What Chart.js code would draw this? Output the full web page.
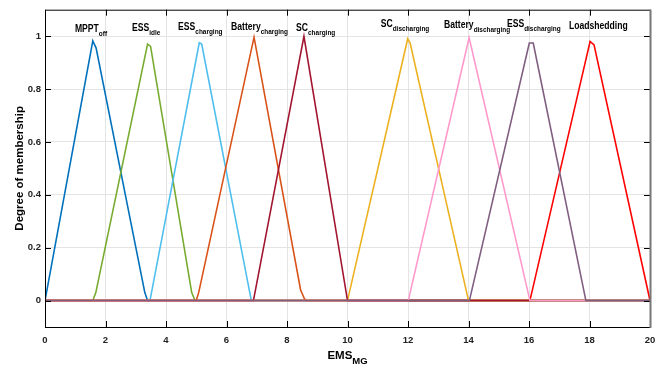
<!DOCTYPE html>
<html>
<head>
<meta charset="utf-8">
<script src="https://cdn.jsdelivr.net/npm/chart.js@4.4.0/dist/chart.umd.min.js"></script>
<style>
  html, body { margin: 0; padding: 0; background: #fff; }
  #wrap { width: 672px; height: 365px; }
</style>
</head>
<body>
<div id="wrap"><canvas id="mfChart" width="672" height="365"></canvas></div>
<script>
// axis ticks
var xTicks = [0, 2, 4, 6, 8, 10, 12, 14, 16, 18, 20];
var yTicks = [0, 0.2, 0.4, 0.6, 0.8, 1];

// membership function vertices (EMS value, degree)
var mpptOffX = [0, 1.58, 1.69, 3.3, 3.39, 20];
var mpptOffY = [0, 0.982, 0.955, 0.03, 0, 0];
var essIdleX = [0, 1.58, 1.68, 3.39, 3.49, 4.85, 4.96, 20];
var essIdleY = [0, 0, 0.03, 0.97, 0.961, 0.03, 0, 0];
var essChgX = [0, 3.47, 5.1, 5.18, 6.82, 20];
var essChgY = [0, 0, 0.975, 0.97, 0, 0];
var batChgX = [0, 5.0, 5.08, 6.91, 8.45, 8.58, 8.65, 20];
var batChgY = [0, 0, 0.03, 0.996, 0.04, 0.006, 0, 0];
var scChgX = [0, 6.89, 8.56, 10.0, 20];
var scChgY = [0, 0, 0.999, 0, 0];
var scDisX = [0, 10.0, 11.99, 12.07, 14.0, 20];
var scDisY = [0, 0, 0.99, 0.974, 0, 0];
var batDisX = [0, 12.01, 14.02, 16.03, 20];
var batDisY = [0, 0, 0.995, 0, 0];
var essDisX = [0, 14.03, 16.01, 16.14, 17.88, 20];
var essDisY = [0, 0, 0.974, 0.974, 0, 0];
var loadShedX = [0, 16.03, 18.02, 18.15, 20];
var loadShedY = [0, 0, 0.98, 0.967, 0];

// label text: main part and subscript
var mfNames = ['MPPT', 'ESS', 'ESS', 'Battery', 'SC', 'SC', 'Battery', 'ESS', 'Loadshedding'];
var mfSubs = ['off', 'idle', 'charging', 'charging', 'charging', 'discharging', 'discharging', 'discharging', ''];
// where each label sits, in axis units
var labelX = [0.99, 2.88, 4.40, 6.15, 8.30, 11.10, 13.19, 15.27, 17.32];
var labelY = [1.017, 1.021, 1.023, 1.024, 1.021, 1.033, 1.029, 1.033, 1.028];

var series = [
  { x: mpptOffX, y: mpptOffY, color: '#0072BD', order: 9 },
  { x: essIdleX, y: essIdleY, color: '#77AC30', order: 8 },
  { x: essChgX, y: essChgY, color: '#4DBEEE', order: 7 },
  { x: batChgX, y: batChgY, color: '#D95319', order: 6 },
  { x: scChgX, y: scChgY, color: '#A2142F', order: 3 },
  { x: scDisX, y: scDisY, color: '#EDB120', order: 4 },
  { x: batDisX, y: batDisY, color: '#FF99CC', order: 2 },
  { x: essDisX, y: essDisY, color: '#7F5E80', order: 1 },
  { x: loadShedX, y: loadShedY, color: '#FF0000', order: 5 }
];

var chartData = {
  datasets: series.map(function(s, i) {
    return {
      label: mfNames[i] + mfSubs[i],
      data: s.x.map(function(v, k) { return { x: v, y: s.y[k] }; }),
      borderColor: s.color,
      borderWidth: 1.6,
      pointRadius: 0,
      fill: false,
      tension: 0,
      order: s.order
    };
  })
};

var FONT = '"Liberation Sans", Arial, Helvetica, sans-serif';

// box around the plot with inward ticks on all four sides
var frameTicks = {
  id: 'frameTicks',
  afterDatasetsDraw: function(chart) {
    var ctx = chart.ctx, a = chart.chartArea;
    var xs = chart.scales.x, ys = chart.scales.y;
    ctx.save();
    ctx.strokeStyle = '#000';
    ctx.lineWidth = 1;
    ctx.beginPath();
    xTicks.forEach(function(v) {
      var px = Math.round(xs.getPixelForValue(v)) + 0.5;
      ctx.moveTo(px, a.bottom); ctx.lineTo(px, a.bottom - 6);
      ctx.moveTo(px, a.top); ctx.lineTo(px, a.top + 6);
    });
    yTicks.forEach(function(v) {
      var py = Math.round(ys.getPixelForValue(v)) + 0.5;
      ctx.moveTo(a.left, py); ctx.lineTo(a.left + 6, py);
      ctx.moveTo(a.right, py); ctx.lineTo(a.right - 6, py);
    });
    ctx.moveTo(a.left + 0.5, a.bottom + 0.5);
    ctx.lineTo(a.left + 0.5, a.top + 0.5);
    ctx.lineTo(a.right, a.top + 0.5);
    ctx.moveTo(a.left, a.bottom + 0.5);
    ctx.lineTo(a.right, a.bottom + 0.5);
    ctx.stroke();
    ctx.strokeStyle = '#777';
    ctx.lineWidth = 2;
    ctx.beginPath();
    ctx.moveTo(a.right + 0.5, a.top);
    ctx.lineTo(a.right + 0.5, a.bottom + 1);
    ctx.stroke();
    ctx.restore();
  }
};

// draws "main" with a smaller subscript after it
function subText(ctx, x, y, main, sub, size, subSize, drop) {
  ctx.font = 'bold ' + size + 'px ' + FONT;
  ctx.fillText(main, x, y);
  var w = ctx.measureText(main).width;
  if (sub) {
    ctx.font = 'bold ' + subSize + 'px ' + FONT;
    ctx.fillText(sub, x + w, y + drop);
    w += ctx.measureText(sub).width;
  }
  return w;
}

var mfLabels = {
  id: 'mfLabels',
  afterDatasetsDraw: function(chart) {
    var ctx = chart.ctx, xs = chart.scales.x, ys = chart.scales.y;
    ctx.save();
    ctx.fillStyle = '#000';
    ctx.textBaseline = 'alphabetic';
    ctx.textAlign = 'left';
    for (var i = 0; i < mfNames.length; i++) {
      var px = xs.getPixelForValue(labelX[i]);
      var py = ys.getPixelForValue(labelY[i]);
      ctx.save();
      ctx.translate(px, py);
      ctx.scale(0.86, 1);
      subText(ctx, 0, 0, mfNames[i], mfSubs[i], 10, 7.5, 4);
      ctx.restore();
    }
    ctx.restore();
  }
};

var axisTitles = {
  id: 'axisTitles',
  afterDraw: function(chart) {
    var ctx = chart.ctx, a = chart.chartArea;
    ctx.save();
    ctx.fillStyle = '#000';
    ctx.textBaseline = 'alphabetic';
    ctx.textAlign = 'left';
    // x title EMS_MG centred under the plot
    ctx.font = 'bold 11.5px ' + FONT;
    var w1 = ctx.measureText('EMS').width;
    ctx.font = 'bold 9.5px ' + FONT;
    var w2 = ctx.measureText('MG').width;
    var x0 = (a.left + a.right) / 2 - (w1 + w2) / 2;
    subText(ctx, x0, 359, 'EMS', 'MG', 11.5, 9.5, 5);
    // y title
    ctx.translate(23, (a.top + a.bottom) / 2);
    ctx.rotate(-Math.PI / 2);
    ctx.textAlign = 'center';
    ctx.font = 'bold 11.5px ' + FONT;
    ctx.fillText('Degree of membership', 0, 0);
    ctx.restore();
  }
};

var ctx = document.getElementById('mfChart').getContext('2d');
var mfChart = new Chart(ctx, {
  type: 'line',
  data: chartData,
  options: {
    responsive: false,
    animation: false,
    devicePixelRatio: 1,
    layout: { padding: { top: 9, right: 22, left: 0, bottom: 0 } },
    plugins: {
      legend: { display: false },
      tooltip: { enabled: false }
    },
    scales: {
      x: {
        type: 'linear',
        min: 0,
        max: 20,
        afterBuildTicks: function(s) { s.ticks = xTicks.map(function(v) { return { value: v }; }); },
        afterFit: function(s) { s.height = 38; },
        grid: { color: '#e4e4e4', lineWidth: 1, drawTicks: false },
        border: { display: false },
        ticks: {
          padding: 8,
          color: '#222',
          font: { family: FONT, size: 9.5, weight: 'bold' },
          maxRotation: 0
        }
      },
      y: {
        min: -0.1,
        max: 1.1,
        afterBuildTicks: function(s) { s.ticks = yTicks.map(function(v) { return { value: v }; }); },
        afterFit: function(s) { s.width = 45; },
        grid: { color: '#e4e4e4', lineWidth: 1, drawTicks: false },
        border: { display: false },
        ticks: {
          padding: 4,
          color: '#222',
          font: { family: FONT, size: 9.5, weight: 'bold' },
          callback: function(v) { return String(Math.round(v * 10) / 10); }
        }
      }
    }
  },
  plugins: [frameTicks, mfLabels, axisTitles]
});
</script>
</body>
</html>
